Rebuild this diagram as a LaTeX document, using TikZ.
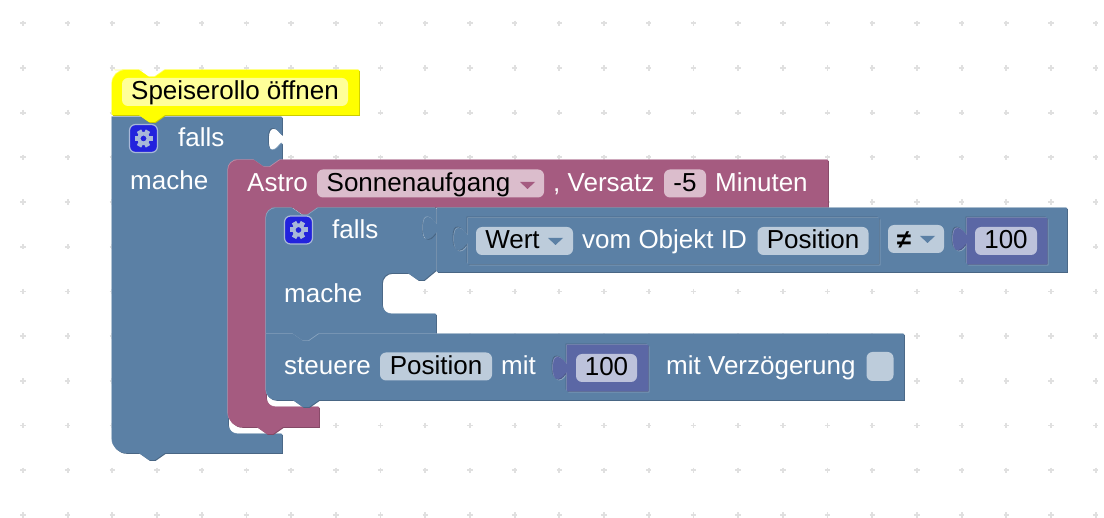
\documentclass[tikz,border=0pt]{standalone}
\usepackage{fontspec}
\setmainfont{Liberation Sans}

\definecolor{blueMain}{HTML}{5B80A5}
\definecolor{blueLight}{HTML}{8CA6C0}
\definecolor{blueDark}{HTML}{496684}
\definecolor{blueField}{HTML}{BDCCDB}
\definecolor{astroMain}{HTML}{A55B80}
\definecolor{astroLight}{HTML}{C08CA6}
\definecolor{astroDark}{HTML}{844966}
\definecolor{astroField}{HTML}{DBBDCC}
\definecolor{numMain}{HTML}{5B67A5}
\definecolor{numLight}{HTML}{8C95C0}
\definecolor{numDark}{HTML}{495284}
\definecolor{numField}{HTML}{BDC2DB}
\definecolor{hatMain}{HTML}{FFFF00}
\definecolor{hatLight}{HTML}{FFFF66}
\definecolor{hatDark}{HTML}{CCCC00}
\definecolor{hatField}{HTML}{FFFF99}
\definecolor{gearBlue}{HTML}{2222DD}
\definecolor{gearLight}{HTML}{A8B8D8}

% Block outline: dark and light edge, then the body
\newcommand{\blockshape}[2]{%
    \fill[#1Dark, xshift=.8pt, yshift=-.8pt] #2;
    \fill[#1Light, xshift=-.6pt, yshift=.6pt] #2;
    \fill[#1Main] #2;
}
% Plugged-in value block: double edge
\newcommand{\valueshape}[2]{%
    \fill[blueLight, xshift=1.4pt, yshift=-1.4pt] #2;
    \fill[blueDark, xshift=-1.4pt, yshift=1.4pt] #2;
    \fill[#1Dark, xshift=.6pt, yshift=-.6pt] #2;
    \fill[#1Light, xshift=-.6pt, yshift=.6pt] #2;
    \fill[#1Main] #2;
}
% Notch along an edge, running right or left
\newcommand{\notchR}[2]{-- (#1-13,#2) -- (#1-3,#2+7) -- (#1+3,#2+7) -- (#1+13,#2)}
\newcommand{\notchL}[2]{-- (#1+13,#2) -- (#1+3,#2+7) -- (#1-3,#2+7) -- (#1-13,#2)}
% Puzzle knob, running down or up
\newcommand{\knobD}[2]{-- (#1,#2+7) .. controls (#1-3,#2+5) and (#1-5,#2) .. (#1-9,#2) .. controls (#1-12,#2) and (#1-14,#2+2) .. (#1-14,#2+11) .. controls (#1-14,#2+20) and (#1-12,#2+22) .. (#1-9,#2+22) .. controls (#1-5,#2+22) and (#1-3,#2+17) .. (#1,#2+15)}
\newcommand{\knobU}[2]{-- (#1,#2+15) .. controls (#1-3,#2+17) and (#1-5,#2+22) .. (#1-9,#2+22) .. controls (#1-12,#2+22) and (#1-14,#2+20) .. (#1-14,#2+11) .. controls (#1-14,#2+2) and (#1-12,#2) .. (#1-9,#2) .. controls (#1-5,#2) and (#1-3,#2+5) .. (#1,#2+7)}
\newcommand{\droparrow}[3]{\fill[#3] (#1,#2) -- (#1+15,#2) -- (#1+7.5,#2+7) -- cycle;}
\newcommand{\gearicon}[2]{%
    \foreach \a in {0,60,...,300} {
        \draw[gearLight, line width=5pt] (#1,#2) ++(\a:5) -- ++(\a:4);
    }
    \draw[gearLight, line width=3.4pt, fill=gearBlue] (#1,#2) circle (4.8);
}

\begin{document}
\begin{tikzpicture}[x=1pt, y=-1pt]
    % ===== PARAMETERS =====
    \pgfmathsetmacro{\G}{44.7}   % grid spacing
    \pgfmathsetmacro{\R}{10}     % corner radius

    \useasboundingbox (0,0) rectangle (1104,518);
    \fill[white] (0,0) rectangle (1104,518);

    % ===== TEXT STYLE =====
    \tikzset{
        blocktext/.style={
            font=\fontsize{26}{30}\selectfont,
            text=white, inner sep=0pt, anchor=base west
        },
        fieldbox/.style={
            font=\fontsize{26}{30}\selectfont,
            text=black, inner sep=0pt, rounded corners=6pt,
            minimum height=28pt, text height=21pt, text depth=5pt
        },
        gearbox/.style={
            draw=gearLight, fill=gearBlue, line width=1.2pt,
            rounded corners=6pt, minimum size=28pt, inner sep=0pt
        }
    }

    % ===== GRID =====
    \foreach \i in {0,...,24} {
        \foreach \j in {0,...,11} {
            \draw[black!12, line width=1.8pt] (22.9+\i*\G-2.7,23.3+\j*\G) -- ++(5.4,0);
            \draw[black!12, line width=1.8pt] (22.9+\i*\G,23.3+\j*\G-2.7) -- ++(0,5.4);
        }
    }

    % ===== BLOCKS =====
    % Outer falls
    \blockshape{blue}{(112,300) -- (112,117) -- (282,117) \knobD{282}{128} -- (282,160) \notchL{267}{160}
        [rounded corners=\R pt] -- (228,160) -- (228,434) [sharp corners] -- (282,434) -- (282,453)
        \notchL{152}{453} [rounded corners=14pt] -- (112,453) -- cycle}

    % Astro
    \blockshape{astro}{(228,300) [rounded corners=\R pt] -- (228,160) -- (244,160) [sharp corners]
        \notchR{267}{160} -- (828,160) -- (828,207) \notchL{305}{207}
        [rounded corners=\R pt] -- (266,207) -- (266,407) [sharp corners] -- (319,407) -- (319,427)
        \notchL{270}{427} [rounded corners=14pt] -- (228,427) -- cycle}

    % Inner falls
    \blockshape{blue}{(266,300) [rounded corners=\R pt] -- (266,208) -- (282,208) [sharp corners]
        \notchR{305}{208} -- (436,208) \knobD{436}{217} -- (436,270) -- (424,280) -- (418,280) -- (408,273)
        [rounded corners=\R pt] -- (382,273) -- (382,314) [sharp corners] -- (436,314) -- (436,334)
        \notchL{306}{334} -- (266,334) -- cycle}

    % Steuere
    \blockshape{blue}{(266,360) -- (266,334) \notchR{306}{334} -- (904,334) -- (904,400)
        \notchL{306}{400} [rounded corners=\R pt] -- (266,400) -- cycle}

    % Compare
    \blockshape{blue}{(437,208) -- (1067,208) -- (1067,272) -- (437,272) \knobU{437}{217} -- cycle}
    % Value of object
    \valueshape{blue}{(468,218) -- (879,218) -- (879,264) -- (468,264) \knobU{468}{228} -- cycle}
    % Numbers
    \valueshape{num}{(967,218) -- (1047,218) -- (1047,264) -- (967,264) \knobU{967}{228} -- cycle}
    \valueshape{num}{(567,345) -- (648,345) -- (648,391) -- (567,391) \knobU{567}{357} -- cycle}

    % Hat
    \blockshape{hat}{(112,115) [rounded corners=14pt] -- (112,70) -- (128,70) [sharp corners]
        \notchR{152}{70} -- (359,70) -- (359,115) \notchL{152}{115} -- cycle}

    % ===== TEXT INSIDE BLOCKS =====
    \node[fieldbox, fill=hatField, minimum width=226pt] (titleField) at (235,92) {Speiserollo öffnen};

    \node[gearbox] (gearOuter) at (143.5,138.5) {};
    \gearicon{143.5}{138.5}
    \node[blocktext] (fallsOuter) at (178,147) {falls};
    \node[blocktext] (macheOuter) at (130,190) {mache};

    \node[blocktext] (astroLabel) at (247,192) {Astro};
    \node[fieldbox, fill=astroField, minimum width=227pt] (sunField) at (430.5,183.5) {Sonnenaufgang\rule{24pt}{0pt}};
    \droparrow{520}{182}{astroMain}
    \node[blocktext] (versatzLabel) at (553,192) {, Versatz};
    \node[fieldbox, fill=astroField, minimum width=42pt] (offsetField) at (685,183.5) {-5};
    \node[blocktext] (minutenLabel) at (715,192) {Minuten};

    \node[gearbox] (gearInner) at (298.5,230) {};
    \gearicon{298.5}{230}
    \node[blocktext] (fallsInner) at (332,239) {falls};
    \node[blocktext] (macheInner) at (284,303) {mache};

    \node[fieldbox, fill=blueField, minimum width=97pt] (wertField) at (524.5,241) {Wert\rule{24pt}{0pt}};
    \droparrow{548}{238}{blueMain}
    \node[blocktext] (objektLabel) at (582,249) {vom Objekt ID};
    \node[fieldbox, fill=blueField, minimum width=111pt] (positionFieldA) at (813,241) {Position};
    \node[fieldbox, fill=blueField, minimum width=56pt, text height=23pt, text depth=3pt] (compareField) at (916,239) {\textbf{≠}\rule{24pt}{0pt}};
    \droparrow{920}{236}{blueMain}
    \node[fieldbox, fill=numField, minimum width=62pt] (numFieldA) at (1006,241) {100};

    \node[blocktext] (steuereLabel) at (284,375) {steuere};
    \node[fieldbox, fill=blueField, minimum width=112pt] (positionFieldB) at (436,366.5) {Position};
    \node[blocktext] (mitLabel) at (501,375) {mit};
    \node[fieldbox, fill=numField, minimum width=61pt] (numFieldB) at (606.5,368) {100};
    \node[blocktext] (delayLabel) at (666,375) {mit Verzögerung};
    \node[fieldbox, fill=blueField, minimum width=27pt, minimum height=29pt] (delayBox) at (880,366.5) {};
\end{tikzpicture}
\end{document}
